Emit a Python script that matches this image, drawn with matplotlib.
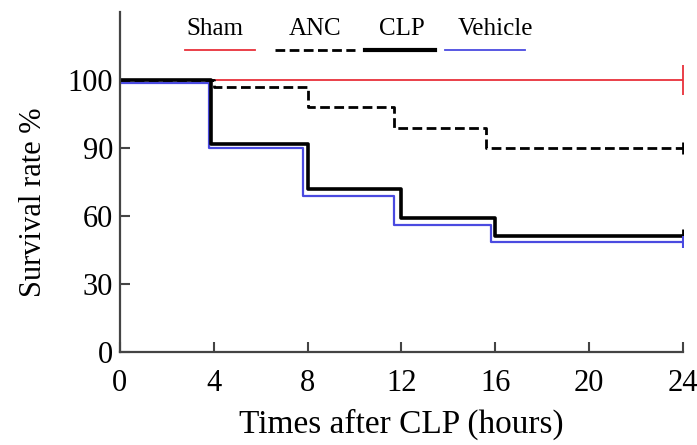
import numpy as np
import matplotlib
matplotlib.use("Agg")
import matplotlib.pyplot as plt
from matplotlib.lines import Line2D

plt.rcParams["font.family"] = ["Liberation Serif", "DejaVu Serif"]

# 数据（从图中读取，单位：小时 / %）
sham_t = [0, 24]
sham_s = [100, 100]

anc_t = [0, 4, 8, 11.7, 15.6, 24]
anc_s = [100, 99, 96, 93, 90, 90]

clp_t = [0, 3.9, 8, 12, 16, 24]
clp_s = [100, 90.6, 72, 59, 51, 51]

veh_t = [0, 3.8, 7.8, 11.7, 15.8, 24]
veh_s = [99.5, 90, 69, 56, 48.7, 48.7]

xticks = [0, 4, 8, 12, 16, 20, 24]
yticks = [0, 30, 60, 90, 100]


# 90 以上的区间被拉伸（原图的纵轴就是这样画的）
def fwd(y):
    y = np.asarray(y, dtype=float)
    return np.where(y <= 90, y, 90 + (y - 90) * 3)


def inv(y):
    y = np.asarray(y, dtype=float)
    return np.where(y <= 90, y, 90 + (y - 90) / 3)


fig = plt.figure(figsize=(6.97, 4.45), dpi=100)
ax = fig.add_axes([0.172, 0.209, 0.808, 0.764])
ax.set_yscale("function", functions=(fwd, inv))

ax.step(sham_t, sham_s, where="post", color="#e8303a", lw=1.3)
ax.step(veh_t, veh_s, where="post", color="#4a4ae0", lw=1.6)
ax.step(clp_t, clp_s, where="post", color="black", lw=2.6)
ax.step(anc_t, anc_s, where="post", color="black", lw=2.0, ls=(0, (3.5, 1.6)))

# 末端的删失标记
ax.plot(sham_t[-1], sham_s[-1], marker="|", ms=22, mew=1.3, color="#e8303a")
ax.plot(anc_t[-1], anc_s[-1], marker="|", ms=9, mew=2, color="black")
ax.plot(clp_t[-1], clp_s[-1], marker="|", ms=10, mew=2, color="black")
ax.plot(veh_t[-1], veh_s[-1], marker="|", ms=8, mew=1.5, color="#4a4ae0")

ax.set_xlim(0, 24)
ax.set_ylim(0, 110)
ax.set_xticks(xticks)
ax.set_yticks(yticks)
ax.tick_params(direction="in", length=7, width=1.5, color="#444444",
               labelsize=22)
ax.tick_params(axis="x", pad=12)
ax.tick_params(axis="y", pad=5)
ax.spines["top"].set_visible(False)
ax.spines["right"].set_visible(False)
for s in ["left", "bottom"]:
    ax.spines[s].set_linewidth(1.6)
    ax.spines[s].set_color("#444444")

ax.set_xlabel("Times after CLP (hours)", fontsize=24, labelpad=8)
ax.set_ylabel("Survival rate %", fontsize=22)
ax.yaxis.set_label_coords(-0.127, 0.44)

# 图例：文字在上，线段在下
legend_items = [
    ("Sham", "#e8303a", "-", 1.3, 185, 255, 215),
    ("ANC", "black", (0, (3.5, 1.6)), 2.0, 275, 355, 315),
    ("CLP", "black", "-", 3.0, 365, 435, 402),
    ("Vehicle", "#4a4ae0", "-", 1.3, 445, 525, 495),
]
W, H = 697, 445
for name, col, ls, lw, x0, x1, xc in legend_items:
    fig.add_artist(Line2D([x0 / W, x1 / W], [1 - 50 / H, 1 - 50 / H],
                          color=col, ls=ls, lw=lw, transform=fig.transFigure))
    fig.text(xc / W, 1 - 29 / H, name, ha="center", va="center",
             fontsize=18)

fig.savefig("out.png", dpi=100)
